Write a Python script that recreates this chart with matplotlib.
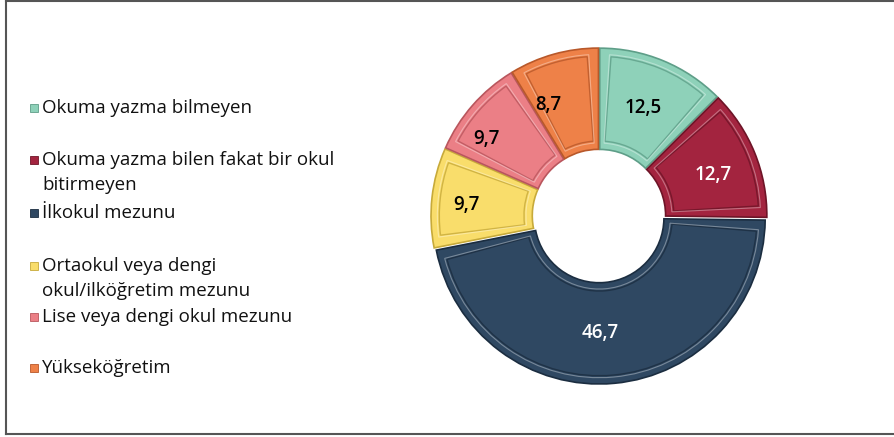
import matplotlib
matplotlib.use("Agg")
import matplotlib.pyplot as plt
from matplotlib.patches import Wedge, Rectangle
import numpy as np

categories = ["Okuma yazma bilmeyen",
              "Okuma yazma bilen fakat bir okul\nbitirmeyen",
              "İlkokul mezunu",
              "Ortaokul veya dengi\nokul/ilköğretim mezunu",
              "Lise veya dengi okul mezunu",
              "Yükseköğretim"]
values = [12.5, 12.7, 46.7, 9.7, 9.7, 8.7]
value_labels = ["12,5", "12,7", "46,7", "9,7", "9,7", "8,7"]
colors = ["#8ED1B9", "#A3243F", "#2F4862", "#F9DD6B", "#EB7F86", "#EE8148"]
edge_dark = ["#5E9E88", "#6E1427", "#1B2D40", "#C7AA3A", "#B9565D", "#B8582A"]
text_colors = ["black", "white", "white", "black", "black", "black"]
# label placement nudges (angle shift in degrees, radial distance)
label_dang = [0, -2.5, -4.5, 1.5, 7, 9]
label_rad = [0.69, 0.72, 0.69, 0.79, 0.81, 0.72]

plt.rcParams['font.family'] = ['Open Sans', 'DejaVu Sans']

W, H = 895, 437
fig = plt.figure(figsize=(W/100, H/100), dpi=100)

# figure border
bax = fig.add_axes([0, 0, 1, 1])
bax.set_xlim(0, W); bax.set_ylim(H, 0); bax.axis('off')
bax.plot([6, 6], [1, 434], color="#555555", lw=1.5)
bax.plot([6, W], [1, 1], color="#555555", lw=1.5)
bax.plot([6, W], [434, 434], color="#555555", lw=1.5)

# pie axes
cx, cy, R = 599, 216, 166
half = 175
ax = fig.add_axes([(cx-half)/W, (H-cy-half)/H, 2*half/W, 2*half/H])

width = 0.61
wedges, _ = ax.pie(values, startangle=90, counterclock=False, radius=1.0,
                   colors=colors, explode=[0.012]*6,
                   wedgeprops=dict(width=width, edgecolor='white', linewidth=2.5))
lim = half / R
ax.set_xlim(-lim, lim); ax.set_ylim(-lim, lim); ax.set_aspect('equal'); ax.axis('off')

for i, w in enumerate(wedges):
    w.set_edgecolor(edge_dark[i]); w.set_linewidth(1.2)
    t1, t2 = w.theta1, w.theta2
    c = w.center
    ax.add_patch(Wedge(c, 1.0, t1, t2, width=width, facecolor='none',
                       edgecolor='white', linewidth=3.0, zorder=0.5))
    ins = 0.05
    dth = np.degrees(ins / 0.7)
    ax.add_patch(Wedge(c, 1.0-ins, t1+dth, t2-dth, width=width-2*ins,
                       facecolor='none', edgecolor=edge_dark[i], linewidth=1.0,
                       alpha=0.8, zorder=3))
    ax.add_patch(Wedge(c, 1.0-ins+0.012, t1+dth-0.6, t2-dth+0.6, width=width-2*ins+0.024,
                       facecolor='none', edgecolor='white', linewidth=0.8,
                       alpha=0.35, zorder=3))
    mid = np.radians((t1 + t2) / 2 + label_dang[i])
    rr = label_rad[i]
    ax.text(c[0] + rr*np.cos(mid), c[1] + rr*np.sin(mid), value_labels[i],
            ha='center', va='center', fontsize=13.5, color=text_colors[i],
            fontweight='semibold', zorder=4)

# legend
ys = [108, 160, 213, 266, 317, 368]
for i, (lab, y) in enumerate(zip(categories, ys)):
    bax.add_patch(Rectangle((30, y-4), 8, 8, facecolor=colors[i],
                            edgecolor=edge_dark[i], linewidth=0.6))
    for k, line in enumerate(lab.split("\n")):
        bax.text(42, y + 25*k, line, ha='left', va='center', fontsize=13.5,
                 color='#111111')

fig.savefig("out.png", dpi=100)
